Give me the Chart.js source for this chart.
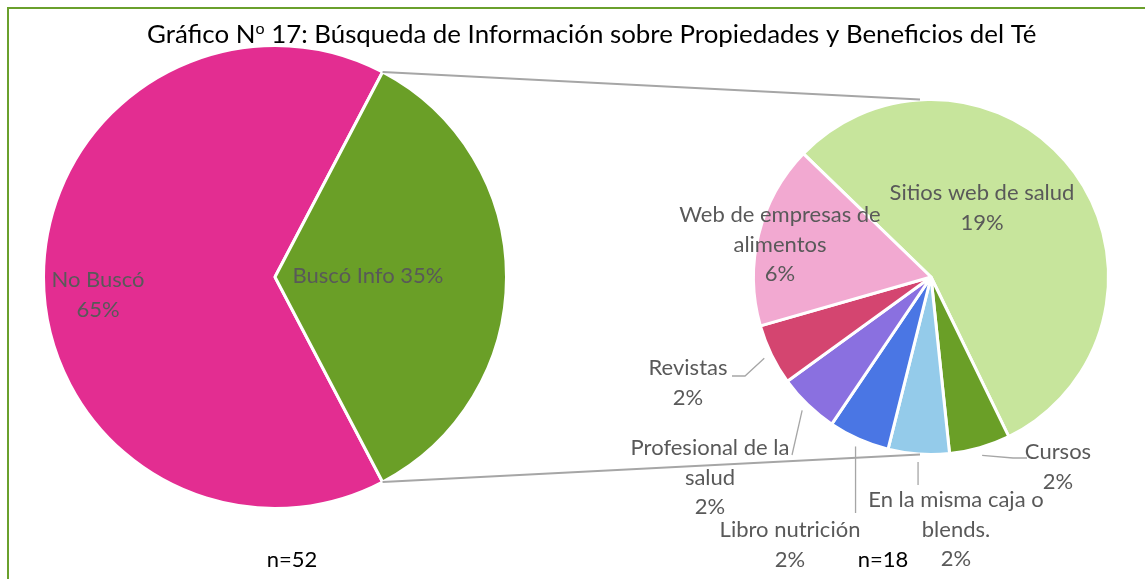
<!DOCTYPE html>
<html>
<head>
<meta charset="utf-8">
<script src="https://cdn.jsdelivr.net/npm/chart.js@4.4.1/dist/chart.umd.min.js"></script>
<style>
  html, body { margin: 0; padding: 0; background: #fff; overflow: hidden; }
  #wrap { position: relative; width: 1145px; height: 579px; overflow: hidden; }
  #frame { position: absolute; left: 7px; top: 7px; width: 1200px; height: 700px; border: 2px solid #6AA02C; }
  canvas { position: absolute; left: 0; top: 0; }
</style>
</head>
<body>
<div id="wrap">
  <div id="frame"></div>
  <canvas id="mainPie" width="1145" height="579"></canvas>
  <canvas id="subPie" width="1145" height="579"></canvas>
</div>
<script>
// data (counts of respondents)
const total = 52;
const mainLabels = ['No Buscó', 'Buscó Info'];
const mainCounts = [34, 18];
const subLabels = ['Sitios web de salud', 'Cursos', 'En la misma caja o blends.', 'Libro nutrición',
                   'Profesional de la salud', 'Revistas', 'Web de empresas de alimentos'];
const subCounts = [10, 1, 1, 1, 1, 1, 3];
const titleParts = ['Gráfico N', 'o', ' 17: Búsqueda de Información sobre Propiedades y Beneficios del Té'];
const sampleNotes = ['n=52', 'n=18'];

const mainColors = ['#E32D91', '#6A9F27'];
const subColors = ['#C7E59C', '#6A9F27', '#94CBEA', '#4A76E4', '#8A70E0', '#D44570', '#F2A9D1'];

const FONT = 'Lato, "Noto Sans", sans-serif';
const LABEL_SIZE = 22;
const LINE_H = 29.5;
const GREY = '#595959';
const LEADER = '#A6A6A6';

// label boxes: x = centre, y = first line centre, w = wrap width
const mainLabelBox = [
  { x: 98, y: 280, w: 95, inline: true },
  { x: 368, y: 276, w: 220, inline: true }
];
const subLabelBox = [
  { x: 982, y: 193, w: 260 },
  { x: 1058, y: 452, w: 120, leader: [[1013, 458], [1027, 458]] },
  { x: 956, y: 500, w: 185, leader: 'v', endY: 485 },
  { x: 790, y: 530, w: 200, leader: 'v', endY: 513 },
  { x: 710, y: 448, w: 170, leader: [[792, 455]] },
  { x: 688, y: 368, w: 120, leader: [[745, 376], [732, 376]] },
  { x: 780, y: 215, w: 215 }
];

function pct(v) { return Math.round(v / total * 100) + '%'; }

function wrap(ctx, text, maxW) {
  const words = text.split(' ');
  const lines = [];
  let cur = '';
  for (const w of words) {
    const t = cur ? cur + ' ' + w : w;
    if (cur && ctx.measureText(t).width > maxW) { lines.push(cur); cur = w; }
    else cur = t;
  }
  if (cur) lines.push(cur);
  return lines;
}

function drawLabel(ctx, name, value, box, inline) {
  ctx.font = LABEL_SIZE + 'px ' + FONT;
  let lines;
  if (inline) lines = wrap(ctx, name + ' ' + pct(value), box.w);
  else lines = wrap(ctx, name, box.w).concat([pct(value)]);
  ctx.fillStyle = GREY;
  ctx.textAlign = 'center';
  ctx.textBaseline = 'middle';
  lines.forEach((l, i) => ctx.fillText(l, box.x, box.y + i * LINE_H));
}

const mainDecor = {
  id: 'mainDecor',
  afterDraw(chart) {
    const ctx = chart.ctx;
    ctx.save();
    // title, fitted to the reference width
    let size = 24;
    ctx.font = size + 'px ' + FONT;
    const sup = 0.62;
    const measure = () => ctx.measureText(titleParts[0]).width + ctx.measureText(titleParts[2]).width;
    let w0 = measure();
    ctx.font = (size * sup) + 'px ' + FONT;
    w0 += ctx.measureText(titleParts[1]).width;
    size = size * 890 / w0;
    let x = 592 - 890 / 2;
    const base = 43;
    ctx.fillStyle = '#000';
    ctx.textAlign = 'left';
    ctx.textBaseline = 'alphabetic';
    ctx.font = size + 'px ' + FONT;
    ctx.fillText(titleParts[0], x, base);
    x += ctx.measureText(titleParts[0]).width;
    ctx.font = (size * sup) + 'px ' + FONT;
    ctx.fillText(titleParts[1], x, base - size * 0.33);
    x += ctx.measureText(titleParts[1]).width;
    ctx.font = size + 'px ' + FONT;
    ctx.fillText(titleParts[2], x, base);

    mainLabels.forEach((name, i) => drawLabel(ctx, name, mainCounts[i], mainLabelBox[i], true));

    ctx.font = '22px ' + FONT;
    ctx.fillStyle = '#000';
    ctx.textAlign = 'center';
    ctx.textBaseline = 'middle';
    ctx.fillText(sampleNotes[0], 292, 560);
    ctx.restore();
  }
};

const mainChart = new Chart(document.getElementById('mainPie'), {
  type: 'pie',
  data: {
    labels: mainLabels,
    datasets: [{ data: mainCounts, backgroundColor: mainColors, borderColor: '#fff', borderWidth: 3 }]
  },
  options: {
    responsive: false,
    animation: false,
    devicePixelRatio: 1,
    events: [],
    rotation: 90 + mainCounts[1] / total * 180,
    layout: { padding: { left: 42, top: 44, right: 637, bottom: 69 } },
    plugins: { legend: { display: false }, tooltip: { enabled: false } }
  },
  plugins: [mainDecor]
});

const subDecor = {
  id: 'subDecor',
  afterDraw(chart) {
    const ctx = chart.ctx;
    const arcs = chart.getDatasetMeta(0).data;
    ctx.save();

    // connectors from the "Buscó Info" slice to the second pie
    const g = mainChart.getDatasetMeta(0).data[1];
    const c = arcs[0];
    const p1 = [g.x + Math.cos(g.startAngle) * g.outerRadius, g.y + Math.sin(g.startAngle) * g.outerRadius];
    const p2 = [g.x + Math.cos(g.endAngle) * g.outerRadius, g.y + Math.sin(g.endAngle) * g.outerRadius];
    ctx.strokeStyle = LEADER;
    ctx.lineWidth = 2;
    ctx.beginPath();
    ctx.moveTo(p1[0], p1[1]); ctx.lineTo(c.x - 11, c.y - c.outerRadius);
    ctx.moveTo(p2[0], p2[1]); ctx.lineTo(c.x - 11, c.y + c.outerRadius);
    ctx.stroke();

    // leader lines
    ctx.lineWidth = 1.3;
    arcs.forEach((a, i) => {
      const box = subLabelBox[i];
      if (!box.leader) return;
      const mid = (a.startAngle + a.endAngle) / 2;
      const sx = a.x + Math.cos(mid) * (a.outerRadius + 8);
      const sy = a.y + Math.sin(mid) * (a.outerRadius + 8);
      ctx.beginPath();
      ctx.moveTo(sx, sy);
      if (box.leader === 'v') ctx.lineTo(sx, box.endY);
      else box.leader.forEach(p => ctx.lineTo(p[0], p[1]));
      ctx.stroke();
    });

    subLabels.forEach((name, i) => drawLabel(ctx, name, subCounts[i], subLabelBox[i], false));

    ctx.font = '22px ' + FONT;
    ctx.fillStyle = '#000';
    ctx.textAlign = 'center';
    ctx.textBaseline = 'middle';
    ctx.fillText(sampleNotes[1], 883, 560);
    ctx.restore();
  }
};

new Chart(document.getElementById('subPie'), {
  type: 'pie',
  data: {
    labels: subLabels,
    datasets: [{ data: subCounts, backgroundColor: subColors, borderColor: '#fff', borderWidth: 3 }]
  },
  options: {
    responsive: false,
    animation: false,
    devicePixelRatio: 1,
    events: [],
    rotation: -46,
    layout: { padding: { left: 752, top: 98, right: 35, bottom: 123 } },
    plugins: { legend: { display: false }, tooltip: { enabled: false } }
  },
  plugins: [subDecor]
});
</script>
</body>
</html>
